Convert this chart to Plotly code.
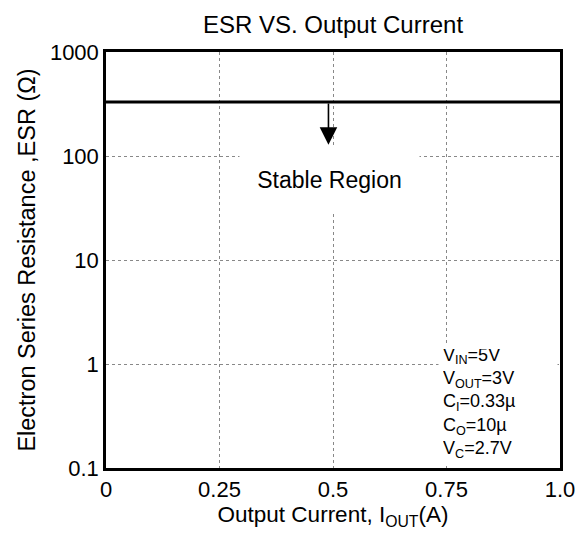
import numpy as np
import plotly.graph_objects as go

# Data
current = [0.0, 1.0]
esr_limit = [330, 330]
arrow_x = 0.49
arrow_from = 330
arrow_to = 128
label_x = 0.493
label_y = 60
x_ticks = [0, 0.25, 0.5, 0.75, 1.0]
x_tick_labels = ["0", "0.25", "0.5", "0.75", "1.0"]
y_ticks = [0.1, 1, 10, 100, 1000]
y_tick_labels = ["0.1", "1", "10", "100", "1000"]
conditions = ["V<sub>IN</sub>=5V", "V<sub>OUT</sub>=3V", "C<sub>I</sub>=0.33µ",
              "C<sub>O</sub>=10µ", "V<sub>C</sub>=2.7V"]

FONT = "Liberation Sans, Arial, sans-serif"

fig = go.Figure()
fig.add_trace(go.Scatter(x=current, y=esr_limit, mode="lines",
                         line=dict(color="black", width=3), showlegend=False,
                         hoverinfo="skip"))

fig.add_annotation(x=label_x, y=np.log10(label_y), text="Stable Region", showarrow=False,
                   font=dict(family=FONT, size=23, color="black"),
                   bgcolor="white", width=177, height=65)

fig.add_annotation(x=arrow_x, y=np.log10(arrow_to), ax=arrow_x, ay=np.log10(arrow_from),
                   axref="x", ayref="y", xref="x", yref="y", text="",
                   showarrow=True, arrowhead=2, arrowsize=2.2, arrowwidth=1.6,
                   arrowcolor="black")

fig.add_annotation(x=1.0, y=0, xref="paper", yref="paper", xanchor="right", yanchor="bottom",
                   text="<br>".join(conditions), showarrow=False, align="left", valign="bottom",
                   font=dict(family=FONT, size=18, color="black"),
                   bgcolor="white", width=110, height=112, borderpad=4, xshift=-2, yshift=2)

# page body has an 8px margin, so the figure is sized and placed to compensate
fig.update_layout(
    width=579, height=525,
    margin=dict(l=98, r=27, t=44, b=65),
    paper_bgcolor="white", plot_bgcolor="white",
    title=dict(text="ESR VS. Output Current", x=0.5, xref="paper", y=0.969, yanchor="middle",
               font=dict(family=FONT, size=24, color="black")),
    font=dict(family=FONT, color="black"),
)
fig.update_xaxes(range=[0, 1.0], tickvals=x_ticks, ticktext=x_tick_labels,
                 showline=True, linecolor="black", linewidth=2.5, mirror=True,
                 showgrid=True, gridcolor="#888", griddash="dot", gridwidth=1,
                 ticks="", tickfont=dict(size=22), zeroline=False,
                 title=dict(text="Output Current, I<sub>OUT</sub>(A)", font=dict(size=22.5), standoff=0))
fig.update_yaxes(type="log", range=[-1, 3], tickvals=y_ticks, ticktext=y_tick_labels,
                 showline=True, linecolor="black", linewidth=2.5, mirror=True,
                 showgrid=True, gridcolor="#888", griddash="dot", gridwidth=1,
                 ticks="", tickfont=dict(size=22), zeroline=False,
                 title=dict(text="Electron Series Resistance ,ESR (Ω)", font=dict(size=23.5), standoff=8))

fig.write_html("out.html")
